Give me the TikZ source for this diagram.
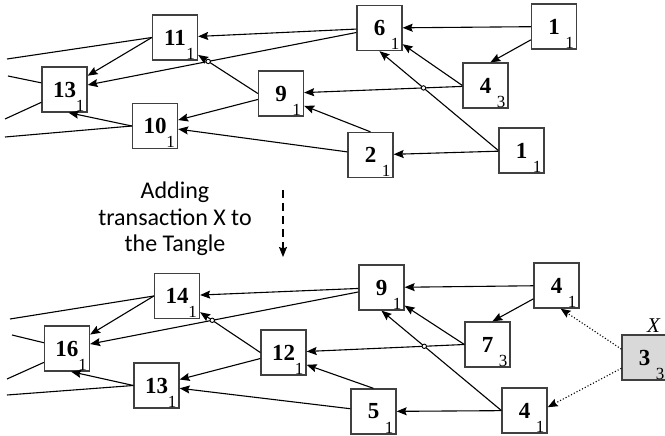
\documentclass[tikz,border=0pt]{standalone}
\usepackage{fontspec}
\setmainfont{Liberation Serif}
\newfontfamily\numfont{Liberation Serif}
\newfontfamily\notefont{Carlito}
\usetikzlibrary{arrows.meta, intersections}

\tikzset{
    txbox/.style={draw=black!75, line width=1.3pt, fill=white,
        minimum size=45pt, inner sep=0pt,
        font=\numfont\bfseries\fontsize{23}{23}\selectfont},
    wtlabel/.style={anchor=south east, inner xsep=3pt, inner ysep=1.2pt,
        font=\numfont\mdseries\fontsize{17}{17}\selectfont},
    wt/.style={label={[wtlabel]south east:#1}},
    tip/.style={line width=1.1pt, -{Stealth[length=10pt, width=8pt, inset=1.5pt]}},
    link/.style={line width=1.1pt},
    hop/.style={draw, fill=white, line width=0.9pt},
}

\begin{document}
\begin{tikzpicture}[x=1pt, y=-1pt]

    \useasboundingbox (0,0) rectangle (665,436);

    % ============================================================
    % TANGLE BEFORE
    % ============================================================
    \node[txbox, wt=1] (a11) at (175,37.5) {11};
    \node[txbox, wt=1] (a13) at (64.5,89.5) {13};
    \node[txbox, wt=1] (a10) at (155,126) {10};
    \node[txbox, wt=1] (a9) at (281,93.5) {9};
    \node[txbox, wt=1] (a6) at (379.5,28) {6};
    \node[txbox, wt=1] (a1t) at (554,26.5) {1};
    \node[txbox, wt=3] (a4) at (485.5,85.5) {4};
    \node[txbox, wt=1] (a2) at (370.5,155) {2};
    \node[txbox, wt=1] (a1b) at (521.5,150.5) {1};

    \coordinate (oa1) at (7,59);
    \coordinate (oa2) at (8,76);
    \coordinate (oa3) at (5,119);
    \coordinate (oa4) at (5,137);

    \draw[tip] (a1t) -- (a6);
    \draw[tip] (a1t.210) -- (a4.78);
    \draw[tip] (a4.west) -- (a6.-35);
    \draw[tip, name path=a4a9] (a4) -- (a9);
    \draw[tip, name path=a1a6] (a1b.west) -- (a6.south);
    \draw[tip] (a1b) -- (a2);
    \draw[tip] (a2.north) -- (a9.-28);
    \draw[tip] (a2) -- (a10);
    \draw[tip] (a9) -- (a10);
    \draw[tip, name path=a9a11] (a9.west) -- (a11.-37);
    \draw[tip] (a6) -- (a11);
    \draw[tip, name path=a6a13] (a6) -- (a13);
    \draw[tip] (a11.west) -- (a13);
    \draw[tip] (a10.west) -- (a13.-80);

    \draw[link] (a11.west) -- (oa1);
    \draw[link] (a13.164) -- (oa2);
    \draw[link] (a13.209) -- (oa3);
    \draw[link] (a10.west) -- (oa4);

    \path[name intersections={of=a6a13 and a9a11, by=ha1}];
    \path[name intersections={of=a4a9 and a1a6, by=ha2}];
    \draw[hop] (ha1) circle (2.2pt);
    \draw[hop] (ha2) circle (2.2pt);

    % ============================================================
    % ADDING X
    % ============================================================
    \node[align=center, font=\notefont\fontsize{24}{26.5}\selectfont]
        (note) at (175,219) {Adding\\transaction X to\\the Tangle};
    \coordinate (d0) at (283,190);
    \coordinate (d1) at (283,257);
    \draw[tip, dash pattern=on 8pt off 5pt] (d0) -- (d1);

    % ============================================================
    % TANGLE AFTER
    % ============================================================
    \node[txbox, wt=1] (b14) at (177,296) {14};
    \node[txbox, wt=1] (b16) at (67,348.5) {16};
    \node[txbox, wt=1] (b13) at (156.5,385.5) {13};
    \node[txbox, wt=1] (b12) at (283.5,352.5) {12};
    \node[txbox, wt=1] (b9) at (381.5,287.5) {9};
    \node[txbox, wt=1] (b4t) at (556.5,285.5) {4};
    \node[txbox, wt=3] (b7) at (487.5,344.5) {7};
    \node[txbox, wt=1] (b5) at (373.5,411.5) {5};
    \node[txbox, wt=1] (b4b) at (524.5,410.5) {4};
    \node[txbox, wt=3, fill=black!15,
        label={[font=\numfont\itshape\fontsize{21}{21}\selectfont, anchor=south,
            xshift=9pt, inner sep=2pt]north:X}] (bX) at (644.5,357.5) {3};

    \coordinate (ob1) at (10,319);
    \coordinate (ob2) at (12,335);
    \coordinate (ob3) at (7,379);
    \coordinate (ob4) at (7,395);

    \draw[tip] (b4t) -- (b9);
    \draw[tip] (b4t.210) -- (b7.78);
    \draw[tip] (b7.west) -- (b9.-38);
    \draw[tip, name path=b7b12] (b7.west) -- (b12);
    \draw[tip, name path=b4b9] (b4b.west) -- (b9.south);
    \draw[tip] (b4b) -- (b5);
    \draw[tip] (b5.north) -- (b12.-28);
    \draw[tip] (b5) -- (b13);
    \draw[tip] (b12) -- (b13);
    \draw[tip, name path=b12b14] (b12.west) -- (b14.-35);
    \draw[tip] (b9) -- (b14);
    \draw[tip, name path=b9b16] (b9) -- (b16);
    \draw[tip] (b14.west) -- (b16);
    \draw[tip] (b13.west) -- (b16.-80);

    \draw[link] (b14.west) -- (ob1);
    \draw[link] (b16.166) -- (ob2);
    \draw[link] (b16.211) -- (ob3);
    \draw[link] (b13.west) -- (ob4);

    \path[name intersections={of=b9b16 and b12b14, by=hb1}];
    \path[name intersections={of=b7b12 and b4b9, by=hb2}];
    \draw[hop] (hb1) circle (2.2pt);
    \draw[hop] (hb2) circle (2.2pt);

    % new transaction X approves two tips
    \draw[tip, dotted] (bX.160) -- (b4t.-80);
    \draw[tip, dotted] (bX.205) -- (b4b.8);

\end{tikzpicture}
\end{document}
